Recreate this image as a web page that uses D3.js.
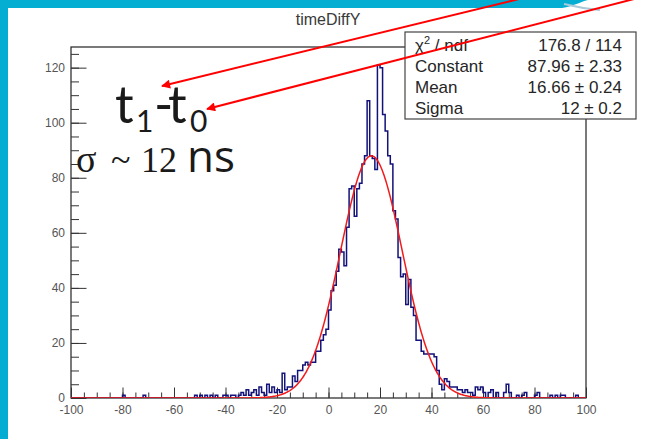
<!DOCTYPE html>
<html>
<head>
<meta charset="utf-8">
<script src="https://cdn.jsdelivr.net/npm/d3@7"></script>
<style>
  html, body { margin: 0; padding: 0; background: #fff; overflow: hidden; }
  svg { display: block; }
</style>
</head>
<body>
<svg id="chart" width="648" height="439"></svg>
<script>
// ---- histogram contents: 1 ns bins from -100 to 100 ----
const histTitle = "timeDiffY";
const binStart = -100;
const binWidth = 1;
const counts = [
  // -100 .. -91
  0, 0, 0, 0, 0, 0, 0, 0, 0, 0,
  // -90 .. -81
  0, 0, 0, 0, 0, 0, 0, 0, 0, 0,
  // -80 .. -71
  1, 0, 0, 0, 0, 0, 0, 0, 1, 0,
  // -70 .. -61
  0, 0, 0, 0, 0, 0, 0, 0, 0, 0,
  // -60 .. -51
  0, 0, 0, 0, 0, 0, 0, 0, 1, 0,
  // -50 .. -41
  1, 0, 1, 0, 1, 0, 1, 0, 0, 1,
  // -40 .. -31
  1, 0, 1, 1, 0, 1, 2, 1, 3, 1,
  // -30 .. -21
  2, 3, 1, 4, 2, 1, 5, 2, 4, 2,
  // -20 .. -11
  3, 2, 9, 3, 4, 4, 8, 6, 10, 10,
  // -10 .. -1
  12, 13, 12, 13, 13, 17, 17, 21, 23, 25,
  // 0 .. 9
  32, 39, 41, 46, 54, 53, 48, 62, 76, 77,
  // 10 .. 19
  66, 76, 78, 85, 88, 108, 88, 87, 83, 121,
  // 20 .. 29
  120, 103, 97, 88, 85, 68, 65, 51, 44, 45,
  // 30 .. 39
  34, 43, 33, 30, 21, 21, 17, 16, 16, 16,
  // 40 .. 49
  16, 15, 10, 5, 3, 7, 6, 4, 4, 4,
  // 50 .. 59
  3, 3, 2, 3, 2, 2, 1, 4, 3, 4,
  // 60 .. 69
  2, 0, 2, 3, 0, 2, 0, 0, 2, 5,
  // 70 .. 79
  2, 0, 0, 1, 0, 1, 2, 0, 0, 0,
  // 80 .. 89
  1, 2, 0, 0, 0, 0, 1, 0, 1, 0,
  // 90 .. 99
  1, 1, 0, 0, 0, 0, 1, 0, 0, 0
];

// ---- gaussian fit result ----
const fitConstant = 87.96;
const fitMean = 16.66;
const fitSigma = 12;

// ---- axes ----
const xDomain = [-100, 100];
const yDomain = [0, 127.5];
const xMajorTicks = [-100, -80, -60, -40, -20, 0, 20, 40, 60, 80, 100];
const yMajorTicks = [0, 20, 40, 60, 80, 100, 120];
const minorStep = 5;

// ---- fit statistics box ----
const statsNames = ["Constant", "Mean", "Sigma"];
const statsValues = ["87.96 \u00b1 2.33", "16.66 \u00b1 0.24", "12 \u00b1 0.2"];
const chi2Value = "176.8 / 114";

// ---- drawing ----
const svg = d3.select("#chart");
const W = 648, H = 439;
const frame = { left: 71, right: 586, top: 47, bottom: 398 };

svg.append("rect").attr("width", W).attr("height", H).attr("fill", "#fff");

// slide border
const cyan = "#04aed2";
svg.append("rect").attr("x", 0).attr("y", 0).attr("width", 8).attr("height", H).attr("fill", cyan);
svg.append("path")
  .attr("d", "M0,0 H588 C580,2 574,6 562,8 H0 Z")
  .attr("fill", cyan);
svg.append("path")
  .attr("d", "M564,4 C576,7 588,9 600,10")
  .attr("fill", "none").attr("stroke", "#a9c9d9").attr("stroke-width", 2);

const x = d3.scaleLinear().domain(xDomain).range([frame.left, frame.right]);
const y = d3.scaleLinear().domain(yDomain).range([frame.bottom, frame.top]);

// title
svg.append("text")
  .attr("x", 328).attr("y", 25)
  .attr("text-anchor", "middle")
  .attr("font-family", "Liberation Sans, Arial, sans-serif")
  .attr("font-size", 16)
  .attr("fill", "#3a3a3a")
  .text(histTitle);

// frame
svg.append("rect")
  .attr("x", frame.left).attr("y", frame.top)
  .attr("width", frame.right - frame.left).attr("height", frame.bottom - frame.top)
  .attr("fill", "none").attr("stroke", "#222").attr("stroke-width", 1.2);

const tickFont = g => g.selectAll("text")
  .attr("font-family", "Liberation Sans, Arial, sans-serif")
  .attr("font-size", 12)
  .attr("fill", "#555");

const fmt = d => String(d);
const minorX = d3.range(xDomain[0], xDomain[1] + 0.01, minorStep);
const minorY = d3.range(0, yDomain[1], minorStep);

// x axis: ticks point into the frame
svg.append("g")
  .attr("transform", `translate(0,${frame.bottom})`)
  .call(d3.axisBottom(x).tickValues(minorX).tickSizeInner(-5.5).tickSizeOuter(0).tickFormat(""))
  .call(g => g.select(".domain").remove())
  .call(g => g.selectAll("line").attr("stroke", "#333"));
svg.append("g")
  .attr("transform", `translate(0,${frame.bottom})`)
  .call(d3.axisBottom(x).tickValues(xMajorTicks).tickSizeInner(-10.5).tickSizeOuter(0).tickPadding(7).tickFormat(fmt))
  .call(g => g.select(".domain").remove())
  .call(g => g.selectAll("line").attr("stroke", "#333"))
  .call(tickFont);

// y axis
svg.append("g")
  .attr("transform", `translate(${frame.left},0)`)
  .call(d3.axisLeft(y).tickValues(minorY).tickSizeInner(-8).tickSizeOuter(0).tickFormat(""))
  .call(g => g.select(".domain").remove())
  .call(g => g.selectAll("line").attr("stroke", "#333"));
svg.append("g")
  .attr("transform", `translate(${frame.left},0)`)
  .call(d3.axisLeft(y).tickValues(yMajorTicks).tickSizeInner(-15.5).tickSizeOuter(0).tickPadding(6).tickFormat(fmt))
  .call(g => g.select(".domain").remove())
  .call(g => g.selectAll("line").attr("stroke", "#333"))
  .call(tickFont);

// histogram outline
const bins = counts.map((c, i) => ({ lo: binStart + i * binWidth, c }));
const stepPts = bins.map(b => [b.lo, b.c]);
stepPts.push([binStart + counts.length * binWidth, counts[counts.length - 1]]);

svg.append("clipPath").attr("id", "plotClip")
  .append("rect")
  .attr("x", frame.left).attr("y", frame.top)
  .attr("width", frame.right - frame.left).attr("height", frame.bottom - frame.top);

svg.append("path")
  .datum(stepPts)
  .attr("clip-path", "url(#plotClip)")
  .attr("d", d3.line().x(d => x(d[0])).y(d => y(d[1])).curve(d3.curveStepAfter))
  .attr("fill", "none")
  .attr("stroke", "#12127a")
  .attr("stroke-width", 1.5);

// gaussian fit curve
const gauss = v => fitConstant * Math.exp(-0.5 * Math.pow((v - fitMean) / fitSigma, 2));
const fitPts = d3.range(xDomain[0], xDomain[1] + 0.001, 0.25).map(v => [v, gauss(v)]);
svg.append("path")
  .datum(fitPts)
  .attr("clip-path", "url(#plotClip)")
  .attr("d", d3.line().x(d => x(d[0])).y(d => y(d[1])).curve(d3.curveLinear))
  .attr("fill", "none")
  .attr("stroke", "#f21a1a")
  .attr("stroke-width", 1.5);

// statistics box
const box = { x: 405, y: 32, w: 231, h: 87 };
const sg = svg.append("g")
  .attr("font-family", "Liberation Sans, Arial, sans-serif")
  .attr("font-size", 17)
  .attr("fill", "#262626");
sg.append("rect")
  .attr("x", box.x).attr("y", box.y).attr("width", box.w).attr("height", box.h)
  .attr("fill", "#fff").attr("stroke", "#444").attr("stroke-width", 1.2);
const rowY = i => box.y + 18.5 + i * 21;
const chiLabel = sg.append("text").attr("x", box.x + 10).attr("y", rowY(0));
chiLabel.append("tspan").text("\u03c7");
chiLabel.append("tspan").attr("dy", -7).attr("font-size", 11).text("2");
chiLabel.append("tspan").attr("dy", 7).text(" / ndf");
sg.append("text").attr("x", box.x + box.w - 14).attr("y", rowY(0))
  .attr("text-anchor", "end").text(chi2Value);
statsNames.forEach((name, i) => {
  sg.append("text").attr("x", box.x + 10).attr("y", rowY(i + 1)).text(name);
  sg.append("text").attr("x", box.x + box.w - 14).attr("y", rowY(i + 1))
    .attr("text-anchor", "end").text(statsValues[i]);
});

// annotation: time difference label and width
const ann = svg.append("g").attr("fill", "#1a1a1a");
const t10 = ann.append("text")
  .attr("font-family", "Lato, Open Sans, sans-serif")
  .attr("font-size", 52)
  .attr("y", 123);
t10.append("tspan").attr("x", 115).text("t");
t10.append("tspan").attr("x", 136).attr("dy", 9).attr("font-size", 30).text("1");
t10.append("tspan").attr("x", 154).attr("dy", -9).text("-");
t10.append("tspan").attr("x", 168).text("t");
t10.append("tspan").attr("x", 190).attr("dy", 9).attr("font-size", 30).text("0");

const serif = "Liberation Serif, Times New Roman, serif";
const sig = ann.append("text").attr("y", 172);
sig.append("tspan").attr("x", 76).attr("font-family", serif).attr("font-size", 38).text("\u03c3");
sig.append("tspan").attr("x", 111).attr("font-family", serif).attr("font-size", 36).text("~");
sig.append("tspan").attr("x", 141).attr("font-family", serif).attr("font-size", 36).text("12");
sig.append("tspan").attr("x", 187).attr("font-family", "Open Sans, Lato, sans-serif").attr("font-size", 44).text("ns");

// red arrows pointing at the label
const defs = svg.append("defs");
defs.append("marker")
  .attr("id", "arrowHead")
  .attr("viewBox", "0 0 10 10")
  .attr("refX", 9).attr("refY", 5)
  .attr("markerUnits", "userSpaceOnUse")
  .attr("markerWidth", 13).attr("markerHeight", 9)
  .attr("orient", "auto")
  .append("path").attr("d", "M0,0 L10,5 L0,10 Z").attr("fill", "#f00");

const arrows = [
  { from: [519, -1], to: [162, 86] },
  { from: [634, -1], to: [207, 109] }
];
svg.append("g").selectAll("line").data(arrows).join("line")
  .attr("x1", d => d.from[0]).attr("y1", d => d.from[1])
  .attr("x2", d => d.to[0]).attr("y2", d => d.to[1])
  .attr("stroke", "#f00").attr("stroke-width", 2)
  .attr("marker-end", "url(#arrowHead)");
</script>
</body>
</html>
